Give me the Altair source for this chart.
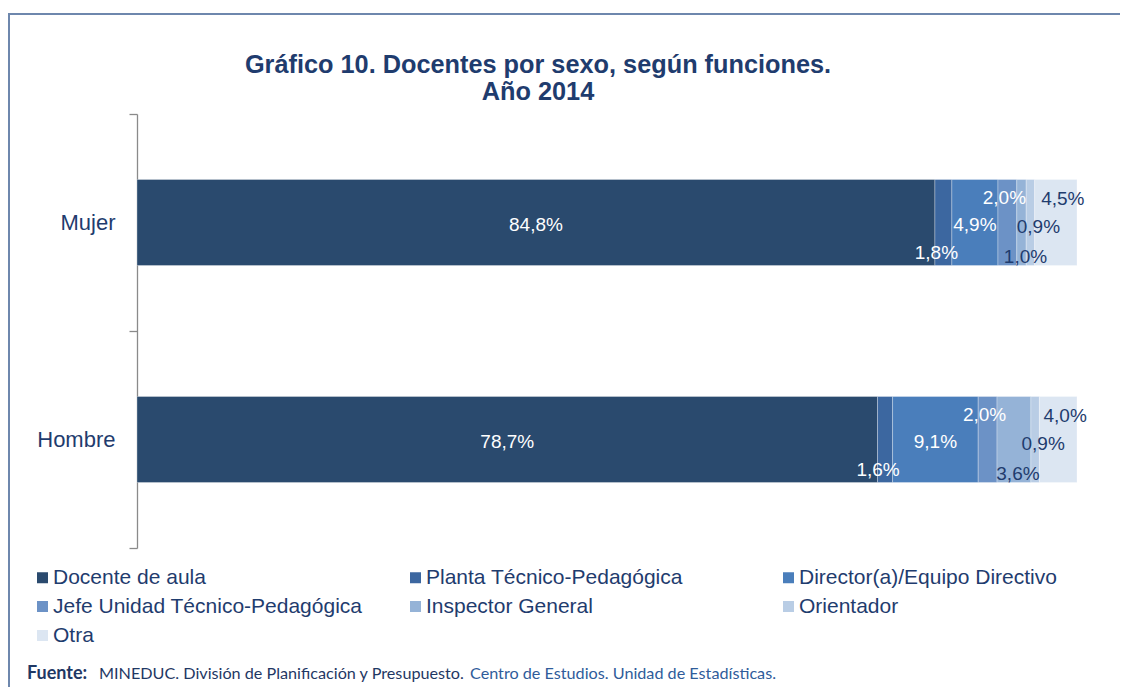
import altair as alt
import pandas as pd

# ---- data ----
sexos = ["Mujer", "Hombre"]
funciones = [
    "Docente de aula",
    "Planta Técnico-Pedagógica",
    "Director(a)/Equipo Directivo",
    "Jefe Unidad Técnico-Pedagógica",
    "Inspector General",
    "Orientador",
    "Otra",
]
mujer = [84.8, 1.8, 4.9, 2.0, 1.0, 0.9, 4.5]
hombre = [78.7, 1.6, 9.1, 2.0, 3.6, 0.9, 4.0]

titulo_1 = "Gráfico 10. Docentes por sexo, según funciones."
titulo_2 = "Año 2014"
fuente_1 = "Fuente:"
fuente_2 = "MINEDUC. División de Planificación y Presupuesto."
fuente_3 = "Centro de Estudios. Unidad de Estadísticas."

# ---- styles ----
colores = ["#2a4a6e", "#3c67a0", "#4a7ebb", "#6c92c6", "#95b3d7", "#b9cde5", "#dce6f2"]
texto = "#1f3c6e"
# label (dx, dy, color) per function
estilo_etiq = [
    (0, 2, "white"),
    (-7, 30, "white"),
    (0, 2, "white"),
    (-3, -25, "white"),
    (4, 34, texto),
    (8, 4, texto),
    (7, -24, texto),
]

rows = []
for s, vals in zip(sexos, [mujer, hombre]):
    for i, (f, v) in enumerate(zip(funciones, vals)):
        rows.append({
            "sexo": s, "funcion": f, "orden": i, "valor": v,
            "etiqueta": f"{v:.1f}%".replace(".", ","),
        })
df = pd.DataFrame(rows)

W, H = 940, 434
PL, PT = 129, 106
TOTAL_W, TOTAL_H = 1112, 679
OX, OY = 8 + PL, 8 + PT  # page position of the plot origin


def px(xp):
    return xp - OX


def py(yp):
    return yp - OY


y_enc = alt.Y(
    "sexo:N", sort=sexos, title=None,
    scale=alt.Scale(paddingInner=0, paddingOuter=0),
    axis=alt.Axis(
        labelFontSize=22, labelFont="Liberation Sans", labelColor=texto,
        labelPadding=14, tickSize=8, tickColor="#8a8a8a", domainColor="#8a8a8a",
        domainWidth=1.3, tickWidth=1.3, tickBand="extent", grid=False, labelAngle=0,
    ),
)

base = alt.Chart(df)

bars = base.mark_bar(size=86, stroke="white", strokeWidth=0.6, strokeOpacity=0.5).encode(
    y=y_enc,
    x=alt.X("valor:Q", stack="normalize", axis=None,
            scale=alt.Scale(domain=[0, 1], nice=False)),
    color=alt.Color(
        "funcion:N", sort=funciones,
        scale=alt.Scale(domain=funciones, range=colores),
        legend=alt.Legend(
            title=None, orient="none", legendX=px(37) - 5, legendY=py(567), columns=3,
            direction="horizontal", gridAlign="all", columnPadding=42, rowPadding=7,
            symbolType="square", symbolSize=121, symbolStrokeWidth=0, labelFontSize=21,
            labelFont="Liberation Sans", labelColor=texto, labelLimit=400,
            labelOffset=0, padding=0,
        ),
    ),
    order=alt.Order("orden:Q", sort="ascending"),
)

layers = [bars]
for i, f in enumerate(funciones):
    dx, dy, col = estilo_etiq[i]
    t = (
        base.transform_stack(
            stack="valor", groupby=["sexo"], as_=["v0", "v1"],
            sort=[alt.SortField("orden", order="ascending")], offset="normalize",
        )
        .transform_calculate(mid="(datum.v0 + datum.v1) / 2")
        .transform_filter(alt.datum.funcion == f)
        .mark_text(dx=dx, dy=dy, color=col, fontSize=19, font="Liberation Sans",
                   baseline="middle", align="center")
        .encode(x=alt.X("mid:Q", axis=None), y=alt.Y("sexo:N", sort=sexos), text="etiqueta:N")
    )
    layers.append(t)

one = pd.DataFrame({"k": [0]})
marco = "#6e87ad"
top_line = alt.Chart(one).mark_rule(color=marco, strokeWidth=2).encode(
    x=alt.value(px(8)), x2=alt.value(px(8 + TOTAL_W)), y=alt.value(py(14)))
left_line = alt.Chart(one).mark_rule(color=marco, strokeWidth=2).encode(
    x=alt.value(px(9)), y=alt.value(py(13)), y2=alt.value(py(8 + TOTAL_H)))

t1 = alt.Chart(one).mark_text(text=titulo_1, font="Liberation Sans", fontWeight="bold",
                              fontSize=25.3, color=texto, align="center",
                              baseline="alphabetic").encode(
    x=alt.value(px(538)), y=alt.value(py(73)))
t2 = alt.Chart(one).mark_text(text=titulo_2, font="Liberation Sans", fontWeight="bold",
                              fontSize=25.3, color=texto, align="center",
                              baseline="alphabetic").encode(
    x=alt.value(px(538)), y=alt.value(py(100)))

fy = py(679)
f1 = alt.Chart(one).mark_text(text=fuente_1, font="Lato", fontWeight="bold", fontSize=18,
                              color="#1f3864", align="left", baseline="alphabetic").encode(
    x=alt.value(px(27)), y=alt.value(fy))
f2 = alt.Chart(one).mark_text(text=fuente_2, font="Lato", fontSize=16.2,
                              color="#1f3864", align="left", baseline="alphabetic").encode(
    x=alt.value(px(99)), y=alt.value(fy))
f3 = alt.Chart(one).mark_text(text=fuente_3, font="Lato", fontSize=16.2,
                              color="#2f5c9a", align="right", baseline="alphabetic").encode(
    x=alt.value(px(776)), y=alt.value(fy))

chart = alt.layer(*layers, top_line, left_line, t1, t2, f1, f2, f3).properties(
    width=W, height=H,
    autosize=alt.AutoSizeParams(type="none"),
    padding={"left": PL, "top": PT, "right": TOTAL_W - PL - W, "bottom": TOTAL_H - PT - H},
).configure_view(stroke=None)

chart.save("out.html", embed_options={"renderer": "svg", "actions": False})
